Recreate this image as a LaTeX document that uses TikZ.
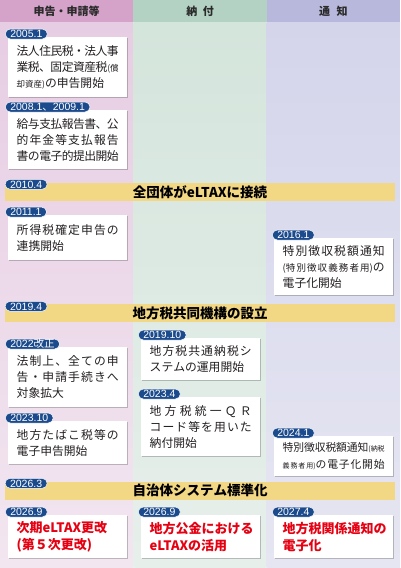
\documentclass[tikz,border=0pt]{standalone}
\usepackage{fontspec}
\setmainfont{Noto Sans CJK JP}
\newfontfamily\jpfont{Noto Sans CJK JP}
\newfontfamily\datefont{Liberation Sans}
\usetikzlibrary{
  positioning,
  shadows
}
\definecolor{hdrpink}{HTML}{D5A3CA}
\definecolor{hdrgreen}{HTML}{B3D2C3}
\definecolor{hdrlav}{HTML}{B8B8DC}
\definecolor{pinktop}{HTML}{E7CDE3}
\definecolor{pinkbot}{HTML}{F2E6F0}
\definecolor{greentop}{HTML}{D4E5DC}
\definecolor{greenbot}{HTML}{E7EFEB}
\definecolor{lavtop}{HTML}{D4D5EB}
\definecolor{lavbot}{HTML}{E6E6F2}
\definecolor{bandyellow}{HTML}{F2D784}
\definecolor{pillblue}{HTML}{1C4B8D}
\definecolor{alert}{HTML}{E60012}
\definecolor{ink}{HTML}{231F20}
\definecolor{hdrtext}{HTML}{2A2A2A}

% stretchable glue between CJK characters, for justified lines
\XeTeXinterchartokenstate=1
\newXeTeXintercharclass\cjkclass
\makeatletter
\newcommand\setcjkrange[2]{\count@=#1\relax
  \loop\ifnum\count@<#2\relax\XeTeXcharclass\count@=\cjkclass\advance\count@\@ne\repeat}
\setcjkrange{"3000}{"3100}
\setcjkrange{"4E00}{"A000}
\setcjkrange{"FF01}{"FF60}
\makeatother
\XeTeXinterchartoks\cjkclass\cjkclass={\hskip 0pt plus 4pt minus 0.8pt\relax}
\newcommand\J[1]{{\rightskip=0pt\parfillskip=0pt\noindent#1\par}}
\newcommand\nojust{\XeTeXinterchartokenstate=0\relax}
\newcommand\sm{\fontsize{8.5}{10}\selectfont}
\newcommand\md{\fontsize{9.5}{10}\selectfont}
\newcommand\tn{\fontsize{7}{8}\selectfont}
\setlength{\parindent}{0pt}

\begin{document}
\begin{tikzpicture}[
  x=1pt, y=-1pt,
  hdr/.style={minimum width=133.33pt, minimum height=22pt, inner sep=0pt,
              font=\fontsize{11}{13}\selectfont\bfseries, text=hdrtext},
  evbox/.style={fill=white, anchor=north west, text width=102pt, inner xsep=8.5pt,
                inner ysep=2pt, align=left, text=ink, font=\fontsize{11.8}{16}\selectfont,
                drop shadow={shadow xshift=1pt, shadow yshift=-1pt, fill=black, opacity=0.22}},
  redbox/.style={evbox, text=alert, font=\nojust\fontsize{13}{17}\selectfont\bfseries},
  band/.style={fill=bandyellow, minimum width=390pt, minimum height=18pt, inner sep=0pt,
               font=\fontsize{13.5}{15}\selectfont\bfseries, text=black},
  datepill/.style={fill=pillblue, draw=white, line width=0.5pt, rounded corners=5pt,
                   text=white, font=\datefont\fontsize{10.5}{11}\selectfont, anchor=west,
                   inner xsep=5pt, inner ysep=1.2pt, text height=7.6pt, text depth=0pt}
]
  \useasboundingbox (0,0) rectangle (400,568);

  % columns
  \shade[top color=pinktop, bottom color=pinkbot] (0,22) rectangle (133.33,568);
  \shade[top color=greentop, bottom color=greenbot] (133.33,22) rectangle (266.67,568);
  \shade[top color=lavtop, bottom color=lavbot] (266.67,22) rectangle (400,568);
  \node[hdr, fill=hdrpink] (hdrA) at (66.67,11) {申告・申請等};
  \node[hdr, fill=hdrgreen] (hdrB) at (200,11) {納\hspace{0.5em}付};
  \node[hdr, fill=hdrlav] (hdrC) at (333.33,11) {通\hspace{0.6em}知};

  % bands
  \node[band] (band2010) at (200,192) {全団体がeLTAXに接続};
  \node[band] (band2019) at (200,313) {地方税共同機構の設立};
  \node[band] (band2026) at (200,490.5) {自治体システム標準化};
  \node[datepill] (d2010) at ([yshift=-1.5pt]band2010.north west) {2010.4};
  \node[datepill] (d2019) at ([yshift=-2.5pt]band2019.north west) {2019.4};
  \node[datepill] (d2026) at ([yshift=-2pt]band2026.north west) {2026.3};

  % events
  \node[evbox, minimum height=60pt] (b2005) at (8,37) {%
    \J{法人住民税・法人事}\J{業税、固定資産税{\sm(償}}{\sm 却資産)}の申告開始};
  \node[evbox, minimum height=59pt] (b2008) at (8,110) {%
    \J{給与支払報告書、公}\J{的年金等支払報告}\J{書の電子的提出開始}};
  \node[evbox, minimum height=45pt] (b2011) at (8,215) {%
    \J{所得税確定申告の}連携開始};
  \node[evbox, minimum height=57pt] (b2016) at (274,238) {%
    \J{特別徴収税額通知}\J{{\md(特別徴収義務者用)}の}電子化開始};
  \node[evbox, minimum height=42pt] (b2019) at (141,338) {%
    \J{地方税共通納税シ}ステムの運用開始};
  \node[evbox, minimum height=60pt] (b2022) at (8,347) {%
    \J{法制上、全ての申}\J{告・申請手続きへ}対象拡大};
  \node[evbox, minimum height=59pt] (b2023q) at (141,397) {%
    \J{地方税統一ＱＲ}\J{コード等を用いた}納付開始};
  \node[evbox, minimum height=43pt] (b2023t) at (8,421) {%
    \J{地方たばこ税等の}電子申告開始};
  \node[evbox, minimum height=40pt, font=\fontsize{10.8}{17}\selectfont] (b2024) at (274,436) {%
    \J{特別徴収税額通知{\tn(納税}}\J{{\tn 義務者用)}の電子化開始}};
  \node[redbox, minimum height=43pt] (b2026a) at (8,515) {次期eLTAX更改\\(第５次更改)};
  \node[redbox, minimum height=43pt] (b2026b) at (141,515) {地方公金における\\eLTAXの活用};
  \node[redbox, minimum height=43pt] (b2027) at (274,515) {地方税関係通知の\\電子化};

  \node[datepill] (d2005) at ([xshift=-3pt,yshift=3pt]b2005.north west) {2005.1};
  \node[datepill] (d2008) at ([xshift=-3pt,yshift=3pt]b2008.north west) {2008.1{\jpfont 、}2009.1};
  \node[datepill] (d2011) at ([xshift=-3pt,yshift=3pt]b2011.north west) {2011.1};
  \node[datepill] (d2016) at ([xshift=-2pt,yshift=3pt]b2016.north west) {2016.1};
  \node[datepill] (d2019b) at ([xshift=-3pt,yshift=3pt]b2019.north west) {2019.10};
  \node[datepill] (d2022) at ([xshift=-3pt,yshift=3pt]b2022.north west) {2022{\jpfont 改正}};
  \node[datepill] (d2023q) at ([xshift=-3pt,yshift=3pt]b2023q.north west) {2023.4};
  \node[datepill] (d2023t) at ([xshift=-3pt,yshift=3pt]b2023t.north west) {2023.10};
  \node[datepill] (d2024) at ([xshift=-2pt,yshift=3pt]b2024.north west) {2024.1};
  \node[datepill] (d2026a) at ([xshift=-3pt,yshift=3pt]b2026a.north west) {2026.9};
  \node[datepill] (d2026b) at ([xshift=-3pt,yshift=3pt]b2026b.north west) {2026.9};
  \node[datepill] (d2027) at ([xshift=-2pt,yshift=3pt]b2027.north west) {2027.4};
\end{tikzpicture}
\end{document}
